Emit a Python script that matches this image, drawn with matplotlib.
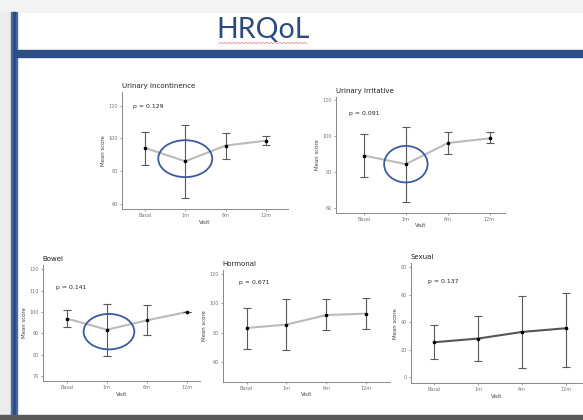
import numpy as np
import matplotlib
matplotlib.use('Agg')
import matplotlib.pyplot as plt
from matplotlib.patches import Rectangle, Ellipse
from matplotlib.lines import Line2D

W, H = 583, 420

visits = ['Basal', '1m', '6m', '12m']

ui_mean = [94.2, 86.0, 95.6, 98.6]
ui_lo = [84.0, 63.6, 87.2, 96.0]
ui_hi = [104.0, 108.2, 103.6, 101.2]

ir_mean = [89.1, 84.3, 96.1, 98.7]
ir_lo = [77.2, 63.3, 90.0, 95.9]
ir_hi = [101.1, 104.8, 102.0, 102.0]

bw_mean = [96.9, 91.7, 96.1, 100.0]
bw_lo = [92.8, 79.5, 89.4, 99.8]
bw_hi = [100.8, 103.75, 103.1, 100.2]

ho_mean = [83.2, 85.5, 92.0, 93.0]
ho_lo = [69.1, 68.2, 81.6, 82.3]
ho_hi = [96.6, 103.0, 102.7, 103.9]

sx_mean = [25.3, 28.0, 32.8, 35.5]
sx_lo = [13.1, 11.7, 6.3, 7.0]
sx_hi = [37.5, 44.5, 59.1, 61.5]

fig = plt.figure(figsize=(W / 100, H / 100), dpi=100)
fig.patch.set_facecolor('white')


def frac_rect(x0, y0, x1, y1):
    return [x0 / W, 1 - y1 / H, (x1 - x0) / W, (y1 - y0) / H]


def add_rect(x0, y0, x1, y1, color):
    fig.patches.append(Rectangle((x0 / W, 1 - y1 / H), (x1 - x0) / W, (y1 - y0) / H,
                                 transform=fig.transFigure, color=color, zorder=0))


# slide decorations
add_rect(0, 0, W, 12, '#f3f3f3')
add_rect(0, 12, 11, H, '#ececec')
add_rect(11, 12, 17, 415, '#4a6daa')
add_rect(13, 12, 15, 415, '#2c4f8c')
add_rect(15, 50, W, 57, '#2e4f85')
add_rect(0, 415, W, H, '#5a5a5a')
fig.text(263 / W, 1 - 30 / H, 'HRQoL', ha='center', va='center', fontsize=20.5,
         color='#2b4a7d', family='Lato')
xs = np.linspace(219, 307, 60)
fig.add_artist(Line2D(xs / W, 1 - (43 + 0.6 * np.sin(xs * 1.5)) / H, color='#f08a8a',
                      lw=0.6, transform=fig.transFigure))


def panel(box, title, mean, lo, hi, ylim, yticks, xlim, ptxt, ppos, ell=None, lcol='#bbbbbb'):
    ax = fig.add_axes(frac_rect(*box))
    x = np.arange(len(visits))
    mean = np.array(mean)
    err = [mean - np.array(lo), np.array(hi) - mean]
    ax.plot(x, mean, color=lcol, lw=1.5, zorder=2)
    ax.errorbar(x, mean, yerr=err, fmt='none', ecolor='#5a5a5a', elinewidth=0.8,
                capsize=2.7, capthick=0.8, zorder=3)
    ax.plot(x, mean, 'o', color='black', ms=1.6, zorder=4)
    if ell is not None:
        ax.add_patch(Ellipse(ell[:2], ell[2], ell[3], fill=False, ec='#3d5a9e', lw=1.3, zorder=5))
    ax.set_xlim(*xlim)
    ax.set_ylim(*ylim)
    ax.set_xticks(x)
    ax.set_xticklabels(visits)
    ax.set_yticks(yticks)
    ax.tick_params(labelsize=3.5, colors='#777777', length=1.5, width=0.5, pad=1.5)
    for s in ['top', 'right']:
        ax.spines[s].set_visible(False)
    for s in ['left', 'bottom']:
        ax.spines[s].set_color('#888888')
        ax.spines[s].set_linewidth(0.7)
    ax.set_xlabel('Visit', fontsize=3.9, color='#444444', labelpad=1)
    ax.set_ylabel('Mean score', fontsize=3.9, color='#444444', labelpad=1.5)
    ax.set_title(title, fontsize=5, loc='left', color='#222222', pad=3)
    ax.text(ppos[0], ppos[1], ptxt, fontsize=4.4, color='#222222', va='center')
    ax.patch.set_alpha(0)
    return ax


panel((122, 92, 288, 209), 'Urinary Incontinence', ui_mean, ui_lo, ui_hi,
      (56.8, 128.4), [60, 80, 100, 120], (-0.57, 3.55), 'p = 0.129', (-0.3, 119.5),
      ell=(1, 87.6, 1.34, 22.6))
panel((336, 97, 505, 212.7), 'Urinary Irritative', ir_mean, ir_lo, ir_hi,
      (57.2, 121.8), [60, 80, 100, 120], (-0.67, 3.37), 'p = 0.091', (-0.36, 112.6),
      ell=(1, 84.3, 1.04, 20.4))
panel((42.7, 265, 200, 381), 'Bowel', bw_mean, bw_lo, bw_hi,
      (67.7, 122), [70, 80, 90, 100, 110, 120], (-0.61, 3.33), 'p = 0.141', (-0.28, 111.4),
      ell=(1.05, 90.8, 1.27, 16.6))
panel((222.7, 270, 390, 381.7), 'Hormonal', ho_mean, ho_lo, ho_hi,
      (46.6, 122.7), [60, 80, 100, 120], (-0.6, 3.6), 'p = 0.671', (-0.18, 114.5))
panel((410.7, 263, 581.7, 383.3), 'Sexual', sx_mean, sx_lo, sx_hi,
      (-4.6, 83), [0, 20, 40, 60, 80], (-0.54, 3.36), 'p = 0.137', (-0.14, 69.6),
      lcol='#555555')

fig.savefig('out.png', dpi=100)
